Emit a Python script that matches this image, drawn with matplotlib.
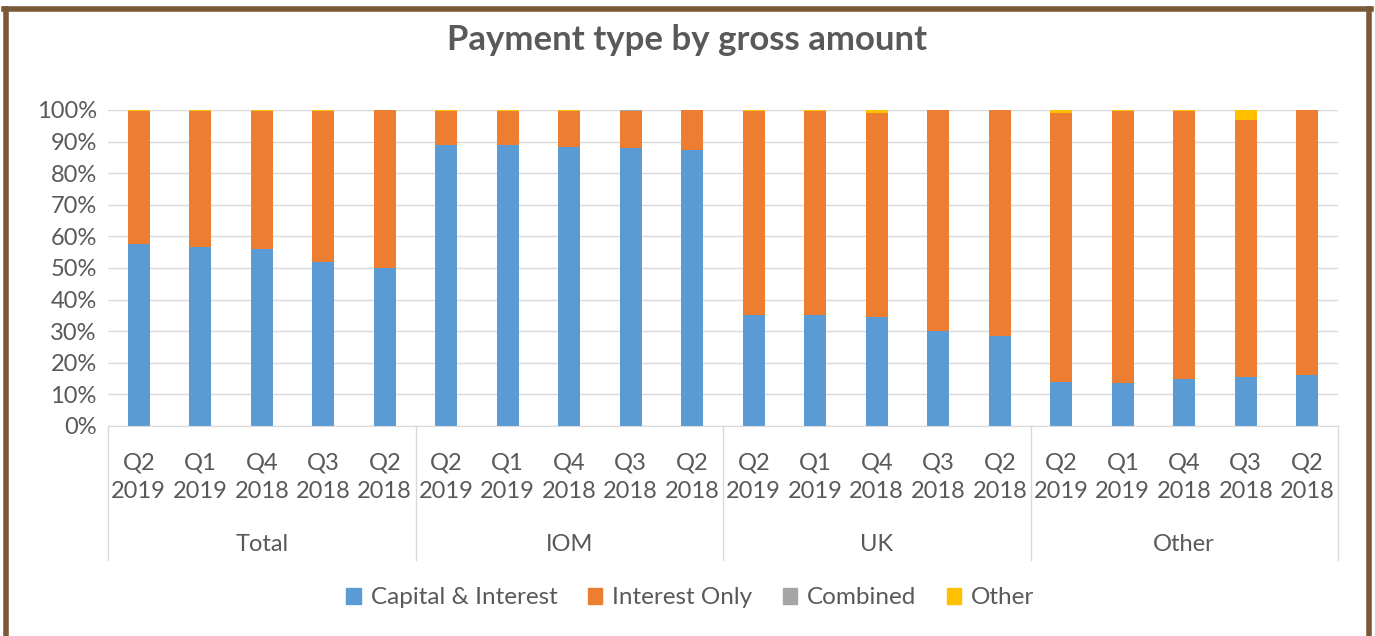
import matplotlib.pyplot as plt
from matplotlib.patches import Patch
from matplotlib.lines import Line2D

plt.rcParams['font.family'] = ['Lato', 'DejaVu Sans']

regions = ['Total', 'IOM', 'UK', 'Other']
quarters = ['Q2\n2019', 'Q1\n2019', 'Q4\n2018', 'Q3\n2018', 'Q2\n2018']

cap_int = [57.5, 56.5, 56.0, 52.0, 50.0,
           89.0, 88.8, 88.2, 88.0, 87.5,
           35.0, 35.0, 34.5, 30.0, 28.5,
           14.0, 13.5, 15.0, 15.5, 16.0]
combined = [0, 0, 0, 0, 0,
            0, 0, 0, 0.4, 0,
            0, 0, 0, 0, 0,
            0, 0, 0, 0, 0]
other = [0.4, 0.4, 0.3, 0.3, 0,
         0.3, 0.3, 0.3, 0, 0,
         0.3, 0.3, 0.8, 0, 0,
         0.8, 0.3, 0.3, 3.2, 0]
int_only = [100 - c - m - o for c, m, o in zip(cap_int, combined, other)]

colors = {'Capital & Interest': '#5B9BD5', 'Interest Only': '#ED7D31',
          'Combined': '#A5A5A5', 'Other': '#FFC000'}
txt = '#595959'

fig = plt.figure(figsize=(13.75, 6.36), dpi=100)
ax = fig.add_axes([108 / 1375, 1 - 426 / 636, 1230 / 1375, 316 / 636])

x = list(range(len(cap_int)))
w = 0.36
ax.bar(x, cap_int, w, color=colors['Capital & Interest'], zorder=2)
bottom = cap_int
ax.bar(x, int_only, w, bottom=bottom, color=colors['Interest Only'], zorder=2)
bottom = [a + b for a, b in zip(bottom, int_only)]
ax.bar(x, combined, w, bottom=bottom, color=colors['Combined'], zorder=2)
bottom = [a + b for a, b in zip(bottom, combined)]
ax.bar(x, other, w, bottom=bottom, color=colors['Other'], zorder=2)

ax.set_xlim(-0.5, len(x) - 0.5)
ax.set_ylim(0, 100)
ax.set_yticks(range(0, 101, 10))
ax.set_yticklabels([f'{v}%' for v in range(0, 101, 10)], fontsize=17, color=txt)
ax.yaxis.grid(True, color='#D9D9D9', linewidth=1, zorder=0)
ax.set_xticks(x)
ax.set_xticklabels(quarters * len(regions), fontsize=17, color=txt, linespacing=1.47)
ax.tick_params(axis='both', length=0, pad=8)
ax.tick_params(axis='x', pad=19)
for s in ['top', 'right', 'left']:
    ax.spines[s].set_visible(False)
ax.spines['bottom'].set_color('#D9D9D9')

# multi-level category axis separators and group labels
for i in range(len(regions) + 1):
    xs = i * 5 - 0.5
    ax.add_line(Line2D([xs, xs], [0, -42.5], color='#D9D9D9', linewidth=1,
                       clip_on=False, transform=ax.transData))
for i, r in enumerate(regions):
    ax.text(i * 5 + 2, -37.5, r, ha='center', va='center', fontsize=17, color=txt,
            clip_on=False)

fig.text(0.5, 1 - 40 / 636, 'Payment type by gross amount', ha='center', va='center',
         fontsize=25, fontweight='bold', color=txt)

handles = [Patch(color=c, label=k) for k, c in colors.items()]
fig.legend(handles=handles, loc='center', bbox_to_anchor=(0.502, 1 - 598 / 636),
           ncol=4, frameon=False, fontsize=17.5, labelcolor=txt,
           handlelength=0.6, handleheight=0.6, columnspacing=1.25, handletextpad=0.4)

# brown frame
brown = '#7B5836'
fig.add_artist(Line2D([6 / 1375, 6 / 1375], [0, 1 - 9 / 636], color=brown, linewidth=4,
                      transform=fig.transFigure))
fig.add_artist(Line2D([4 / 1375, 1371 / 1375], [1 - 9 / 636, 1 - 9 / 636], color=brown,
                      linewidth=4, transform=fig.transFigure))
fig.add_artist(Line2D([1369 / 1375, 1369 / 1375], [0, 1 - 9 / 636], color=brown,
                      linewidth=4, transform=fig.transFigure))

fig.savefig('out.png', dpi=100)
